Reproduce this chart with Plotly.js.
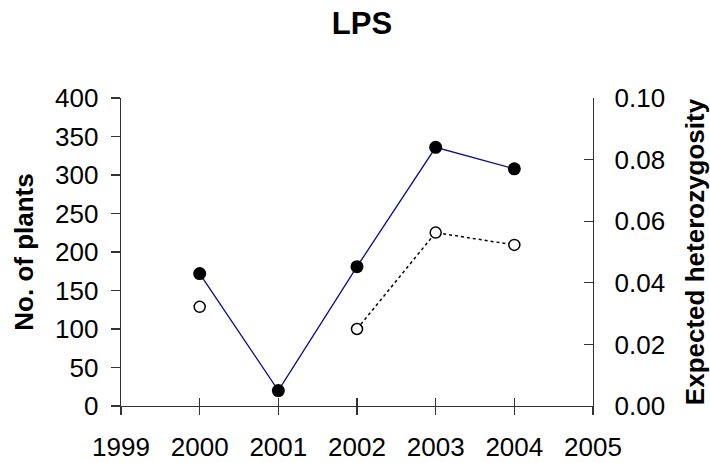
<!DOCTYPE html>
<html>
<head>
<meta charset="utf-8">
<script src="https://cdn.plot.ly/plotly-3.0.1.min.js"></script>
<style>html,body{margin:0;padding:0;background:#fff;}#chart{width:710px;height:463px;}</style>
</head>
<body>
<div id="chart"></div>
<script>
var years = [2000, 2001, 2002, 2003, 2004];
var plants = [172, 20, 181, 336, 308];
var heterozygosity = [0.0322, null, 0.0250, 0.0563, 0.0523];
var xTickVals = [1999, 2000, 2001, 2002, 2003, 2004, 2005];
var chartTitle = "LPS";
var leftTitle = "No. of plants";
var rightTitle = "Expected heterozygosity";

var FONT = "Liberation Sans, Arial, sans-serif";
var AX = "#333333";

var traces = [
  {
    x: years, y: heterozygosity, type: "scatter", mode: "lines+markers",
    xaxis: "x2", yaxis: "y2", connectgaps: false,
    line: {color: "#000000", width: 1.5, dash: "dot"},
    marker: {color: "#ffffff", size: 11, line: {color: "#000000", width: 1.5}},
    showlegend: false, hoverinfo: "x+y"
  },
  {
    x: years, y: plants, type: "scatter", mode: "lines+markers",
    xaxis: "x", yaxis: "y",
    line: {color: "#0a0a8c", width: 1.3},
    marker: {color: "#000000", size: 13, line: {width: 0}},
    showlegend: false, hoverinfo: "x+y"
  }
];

var layout = {
  width: 710, height: 463,
  paper_bgcolor: "#ffffff", plot_bgcolor: "#ffffff",
  margin: {l: 121, r: 117, t: 98, b: 57},
  font: {family: FONT, size: 26, color: "#000000"},
  showlegend: false,
  title: {
    text: "<b>" + chartTitle + "</b>",
    font: {family: FONT, size: 31, color: "#000000"},
    x: 362 / 710, xref: "container", xanchor: "center",
    y: 1 - 23 / 463, yref: "container", yanchor: "middle"
  },
  xaxis: {
    range: [1999, 2005], tickmode: "array", tickvals: xTickVals,
    ticktext: xTickVals.map(String),
    showgrid: false, zeroline: false, showline: true,
    linecolor: AX, linewidth: 1.3,
    ticks: "outside", ticklen: 8, tickwidth: 1.3, tickcolor: AX,
    tickfont: {family: FONT, size: 26, color: "#000000"},
    ticklabelstandoff: 9,
    anchor: "y", fixedrange: true
  },
  xaxis2: {
    range: [1999, 2005], tickmode: "array", tickvals: xTickVals,
    showticklabels: false, overlaying: "x", anchor: "y2",
    showgrid: false, zeroline: false, showline: false,
    ticks: "inside", ticklen: 8, tickwidth: 1.3, tickcolor: AX,
    side: "bottom", fixedrange: true
  },
  yaxis: {
    range: [0, 400], dtick: 50, tick0: 0,
    showgrid: false, zeroline: false, showline: true,
    linecolor: AX, linewidth: 1.3,
    ticks: "outside", ticklen: 9, tickwidth: 1.3, tickcolor: AX,
    tickfont: {family: FONT, size: 26, color: "#000000"},
    ticklabelstandoff: 7,
    title: {text: "<b>" + leftTitle + "</b>", font: {family: FONT, size: 26, color: "#000000"}, standoff: 14},
    fixedrange: true
  },
  yaxis2: {
    range: [0, 0.1], dtick: 0.02, tick0: 0, tickformat: ".2f",
    overlaying: "y", side: "right", anchor: "x",
    showgrid: false, zeroline: false, showline: true,
    linecolor: AX, linewidth: 1.3,
    ticks: "inside", ticklen: 9, tickwidth: 1.3, tickcolor: AX,
    tickfont: {family: FONT, size: 26, color: "#000000"},
    ticklabelstandoff: 15,
    title: {text: "<b>" + rightTitle + "</b>", font: {family: FONT, size: 26, color: "#000000"}, standoff: 24},
    fixedrange: true
  }
};

Plotly.newPlot("chart", traces, layout, {displayModeBar: false, staticPlot: true});
</script>
</body>
</html>
